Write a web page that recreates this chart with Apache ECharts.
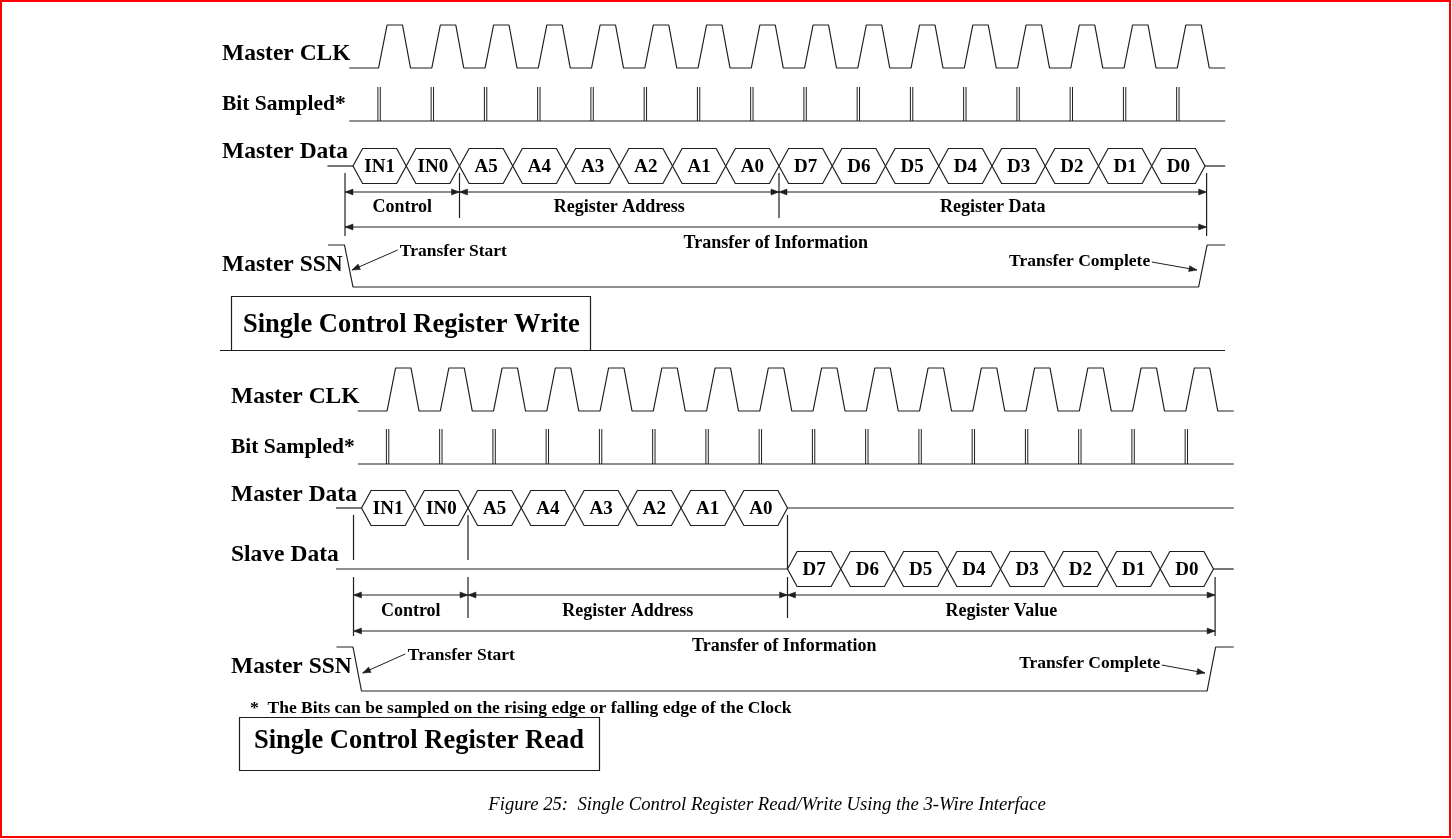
<!DOCTYPE html>
<html><head><meta charset="utf-8">
<script src="https://cdn.jsdelivr.net/npm/echarts/dist/echarts.min.js"></script>
<style>html,body{margin:0;padding:0;background:#fff}#c{width:1452px;height:839px}</style>
</head><body><div id="c"></div>
<script>
// ---------------- data ----------------
const writeMasterBits = ['IN1','IN0','A5','A4','A3','A2','A1','A0','D7','D6','D5','D4','D3','D2','D1','D0'];
const readMasterBits  = ['IN1','IN0','A5','A4','A3','A2','A1','A0'];
const readSlaveBits   = ['D7','D6','D5','D4','D3','D2','D1','D0'];
const fieldBits       = [2, 6, 8];
const fieldNamesWrite = ['Control','Register Address','Register Data'];
const fieldNamesRead  = ['Control','Register Address','Register Value'];
const signalNamesWrite = ['Master CLK','Bit Sampled*','Master Data','Master SSN'];
const signalNamesRead  = ['Master CLK','Bit Sampled*','Master Data','Slave Data','Master SSN'];
const clockCycles = 16;
const annotationTexts = ['Transfer Start','Transfer Complete','Transfer of Information'];
const panelTitles = ['Single Control Register Write','Single Control Register Read'];
const footnoteText = '*  The Bits can be sampled on the rising edge or falling edge of the Clock';
const captionText = 'Figure 25:  Single Control Register Read/Write Using the 3-Wire Interface';

// ---------------- timing shape (bit-time units) ----------------
const T = { clkStart:-0.07, end:16.38, riseA:0.48, riseB:0.64, fallA:0.93, fallB:1.08, sample:0.49,
  slant:0.18, dataStart:-0.48, ssnStart:-0.47, ssnFall:[-0.16,0.0], ssnRise:[15.88,16.04],
  markLead:-0.15, markTrail:0.03 };

// ---------------- layout ----------------
const PX = 53.25;
const panels = [
  { x0:353, labelX:222, clk:{low:68,high:25}, samp:{base:121,top:87}, master:166, slave:null, hexH:17.5,
    markTop:173, markMid:218, markOut:236, arrow1:192, label1:207, arrow2:227, label2:243,
    ssn:{high:245, low:287}, nameY:[54,104,152,265], nameSize:[23.5,21.5,23.5,23.5],
    ts:{t:0.88,y:251, from:[0.84,250], to:[-0.02,270]}, tc:{t:14.97,y:261, from:[15.0,262], to:[15.85,270]},
    fields:fieldNamesWrite, names:signalNamesWrite },
  { x0:361.5, labelX:231, clk:{low:411,high:368}, samp:{base:464,top:429}, master:508, slave:569, hexH:17.5,
    markTop:515, markUpperEnd:560, lowTop:577, markMid:618, markOut:636, arrow1:595, label1:611, arrow2:631, label2:646,
    ssn:{high:647, low:691}, nameY:[397,447,495,555,667], nameSize:[23.5,21.5,23.5,23.5,23.5],
    ts:{t:0.87,y:655, from:[0.82,654], to:[0.02,673]}, tc:{t:15.0,y:663, from:[15.03,665], to:[15.84,673]},
    fields:fieldNamesRead, names:signalNamesRead }
];

const C = '#1e1e1e', LW = 1.2;
const SERIF = '"Liberation Serif","Times New Roman",serif';

const grids = [], xAxes = [], yAxes = [], series = [];

function lineSeries(i, pts){
  return { type:'line', xAxisIndex:i, yAxisIndex:i, data:pts, symbol:'none', showSymbol:false,
    lineStyle:{color:C,width:LW}, silent:true, animation:false, z:3 };
}
function custom(i, data, render){
  return { type:'custom', xAxisIndex:i, yAxisIndex:i, data, renderItem:render, silent:true, animation:false, clip:false, z:4 };
}
function arrowHead(x, y, ang){
  const L = 8, W = 3;
  const c = Math.cos(ang), s = Math.sin(ang);
  return { type:'polygon', shape:{points:[[x,y],[x - L*c + W*s, y - L*s - W*c],[x - L*c - W*s, y - L*s + W*c]]},
    style:{fill:C, stroke:C, lineWidth:0.5} };
}

panels.forEach((p, i) => {
  grids.push({ left: p.x0 - 2*PX, width: 20*PX, top:0, height:839 });
  xAxes.push({ type:'value', gridIndex:i, min:-2, max:18, show:false, splitLine:{show:false} });
  yAxes.push({ type:'value', gridIndex:i, min:0, max:839, inverse:true, show:false, splitLine:{show:false} });

  // clock
  const clk = [[T.clkStart, p.clk.low]];
  for (let k = 0; k < clockCycles; k++) {
    clk.push([k+T.riseA, p.clk.low],[k+T.riseB, p.clk.high],[k+T.fallA, p.clk.high],[k+T.fallB, p.clk.low]);
  }
  clk.push([T.end, p.clk.low]);
  series.push(lineSeries(i, clk));

  // bit sampled baseline + double ticks
  series.push(lineSeries(i, [[T.clkStart, p.samp.base],[T.end, p.samp.base]]));
  const samples = [];
  for (let k = 0; k < clockCycles; k++) samples.push([k + T.sample, p.samp.base, p.samp.top]);
  series.push(custom(i, samples, (params, api) => {
    const a = api.coord([api.value(0), api.value(1)]), b = api.coord([api.value(0), api.value(2)]);
    return { type:'group', children:[-1.2, 1.2].map(d => ({ type:'line',
      shape:{x1:a[0]+d, y1:a[1], x2:a[0]+d, y2:b[1]}, style:{stroke:C, lineWidth:1} })) };
  }));

  // data rows
  const hexRender = (labels) => (params, api) => {
    const t0 = api.value(0), t1 = api.value(1), yc = api.value(2), h = api.value(3), idx = api.value(4);
    const a = api.coord([t0, yc]), b = api.coord([t1, yc]);
    const top = api.coord([t0, yc - h])[1], bot = api.coord([t0, yc + h])[1];
    const s = api.size([T.slant, 0])[0];
    const pts = [[a[0], a[1]],[a[0]+s, top],[b[0]-s, top],[b[0], b[1]],[b[0]-s, bot],[a[0]+s, bot]];
    return { type:'group', children:[
      { type:'polygon', shape:{points:pts}, style:{fill:'#fff', stroke:C, lineWidth:LW} },
      { type:'text', x:(a[0]+b[0])/2, y:a[1]+1, style:{ text:labels[idx], font:'bold 19px '+SERIF,
        fill:'#000', align:'center', verticalAlign:'middle' } }
    ]};
  };
  const hexData = (labels, startBit, yc) => labels.map((l, k) => [startBit+k, startBit+k+1, yc, p.hexH, k]);

  if (i === 0) {
    series.push(lineSeries(i, [[T.dataStart, p.master],[0, p.master]]));
    series.push(lineSeries(i, [[writeMasterBits.length, p.master],[T.end, p.master]]));
    series.push(custom(i, hexData(writeMasterBits, 0, p.master), hexRender(writeMasterBits)));
  } else {
    series.push(lineSeries(i, [[T.dataStart, p.master],[0, p.master]]));
    series.push(lineSeries(i, [[readMasterBits.length, p.master],[T.end, p.master]]));
    series.push(custom(i, hexData(readMasterBits, 0, p.master), hexRender(readMasterBits)));
    const sStart = readMasterBits.length;
    series.push(lineSeries(i, [[T.dataStart, p.slave],[sStart, p.slave]]));
    series.push(lineSeries(i, [[sStart + readSlaveBits.length, p.slave],[T.end, p.slave]]));
    series.push(custom(i, hexData(readSlaveBits, sStart, p.slave), hexRender(readSlaveBits)));
  }

  // field boundaries
  const bounds = [0]; fieldBits.forEach(b => bounds.push(bounds[bounds.length-1] + b));
  const marks = bounds.map((b, k) => k === 0 ? T.markLead : (k === bounds.length-1 ? b + T.markTrail : b));
  const vsegs = [];
  marks.forEach((m, k) => {
    const outer = (k === 0 || k === marks.length-1);
    if (i === 0) {
      vsegs.push([m, p.markTop, outer ? p.markOut : p.markMid]);
    } else {
      if (k < marks.length-1) vsegs.push([m, p.markTop, k === marks.length-2 ? p.slave : p.markUpperEnd]);
      vsegs.push([m, p.lowTop, outer ? p.markOut : p.markMid]);
    }
  });
  series.push(custom(i, vsegs, (params, api) => {
    const a = api.coord([api.value(0), api.value(1)]), b = api.coord([api.value(0), api.value(2)]);
    return { type:'line', shape:{x1:a[0], y1:a[1], x2:b[0], y2:b[1]}, style:{stroke:C, lineWidth:LW} };
  }));

  // double-headed span arrows with labels
  const spans = [];
  for (let k = 0; k < marks.length-1; k++) spans.push([marks[k], marks[k+1], p.arrow1, p.label1, k]);
  spans.push([marks[0], marks[marks.length-1], p.arrow2, p.label2, 3]);
  const spanLabels = p.fields.concat([annotationTexts[2]]);
  series.push(custom(i, spans, (params, api) => {
    const a = api.coord([api.value(0), api.value(2)]), b = api.coord([api.value(1), api.value(2)]);
    const ly = api.coord([api.value(0), api.value(3)])[1];
    return { type:'group', children:[
      { type:'line', shape:{x1:a[0], y1:a[1], x2:b[0], y2:b[1]}, style:{stroke:C, lineWidth:LW} },
      arrowHead(a[0], a[1], Math.PI), arrowHead(b[0], b[1], 0),
      { type:'text', x:(a[0]+b[0])/2, y:ly, style:{ text:spanLabels[api.value(4)], font:'bold 18px '+SERIF,
        fill:'#000', align:'center', verticalAlign:'middle' } }
    ]};
  }));

  // SSN
  series.push(lineSeries(i, [[T.ssnStart, p.ssn.high],[T.ssnFall[0], p.ssn.high],[T.ssnFall[1], p.ssn.low],
    [T.ssnRise[0], p.ssn.low],[T.ssnRise[1], p.ssn.high],[T.end, p.ssn.high]]));

  // transfer start / complete annotations
  const notes = [[p.ts.from[0], p.ts.from[1], p.ts.to[0], p.ts.to[1], p.ts.t, p.ts.y, 0],
                 [p.tc.from[0], p.tc.from[1], p.tc.to[0], p.tc.to[1], p.tc.t, p.tc.y, 1]];
  series.push(custom(i, notes, (params, api) => {
    const a = api.coord([api.value(0), api.value(1)]), b = api.coord([api.value(2), api.value(3)]);
    const l = api.coord([api.value(4), api.value(5)]);
    const idx = api.value(6);
    const ang = Math.atan2(b[1]-a[1], b[0]-a[0]);
    return { type:'group', children:[
      { type:'line', shape:{x1:a[0], y1:a[1], x2:b[0], y2:b[1]}, style:{stroke:C, lineWidth:1} },
      arrowHead(b[0], b[1], ang),
      { type:'text', x:l[0], y:l[1], style:{ text:annotationTexts[idx], font:'bold 17.5px '+SERIF,
        fill:'#000', align: idx === 0 ? 'left' : 'right', verticalAlign:'middle' } }
    ]};
  }));
});

// ---------------- static graphics (labels, boxes, caption) ----------------
const graphic = [];
panels.forEach(p => {
  p.names.forEach((n, k) => graphic.push({ type:'text', x:p.labelX, y:p.nameY[k], z:10,
    style:{ text:n, font:'bold ' + p.nameSize[k] + 'px ' + SERIF, fill:'#000', verticalAlign:'middle' } }));
});
graphic.push({ type:'line', shape:{x1:220, y1:350.5, x2:1225, y2:350.5}, style:{stroke:C, lineWidth:1.2} });
graphic.push({ type:'rect', shape:{x:231.5, y:296.5, width:359, height:54}, style:{fill:'none', stroke:C, lineWidth:1.2} });
graphic.push({ type:'text', x:243, y:325, style:{ text:panelTitles[0], font:'bold 26.5px '+SERIF, fill:'#000', verticalAlign:'middle' } });
graphic.push({ type:'rect', shape:{x:239.5, y:717.5, width:360, height:53}, style:{fill:'none', stroke:C, lineWidth:1.2} });
graphic.push({ type:'text', x:254, y:741, style:{ text:panelTitles[1], font:'bold 26.5px '+SERIF, fill:'#000', verticalAlign:'middle' } });
graphic.push({ type:'text', x:250, y:708, style:{ text:footnoteText, font:'bold 17.5px '+SERIF, fill:'#000', verticalAlign:'middle' } });
graphic.push({ type:'text', x:767, y:805, style:{ text:captionText, font:'italic 18.7px '+SERIF, fill:'#000', align:'center', verticalAlign:'middle' } });
graphic.push({ type:'rect', shape:{x:1, y:1, width:1449, height:836}, style:{fill:'none', stroke:'#ff0000', lineWidth:2} });

const chart = echarts.init(document.getElementById('c'), null, {renderer:'canvas'});
chart.setOption({ backgroundColor:'#fff', animation:false, grid:grids, xAxis:xAxes, yAxis:yAxes, series, graphic });
</script></body></html>
